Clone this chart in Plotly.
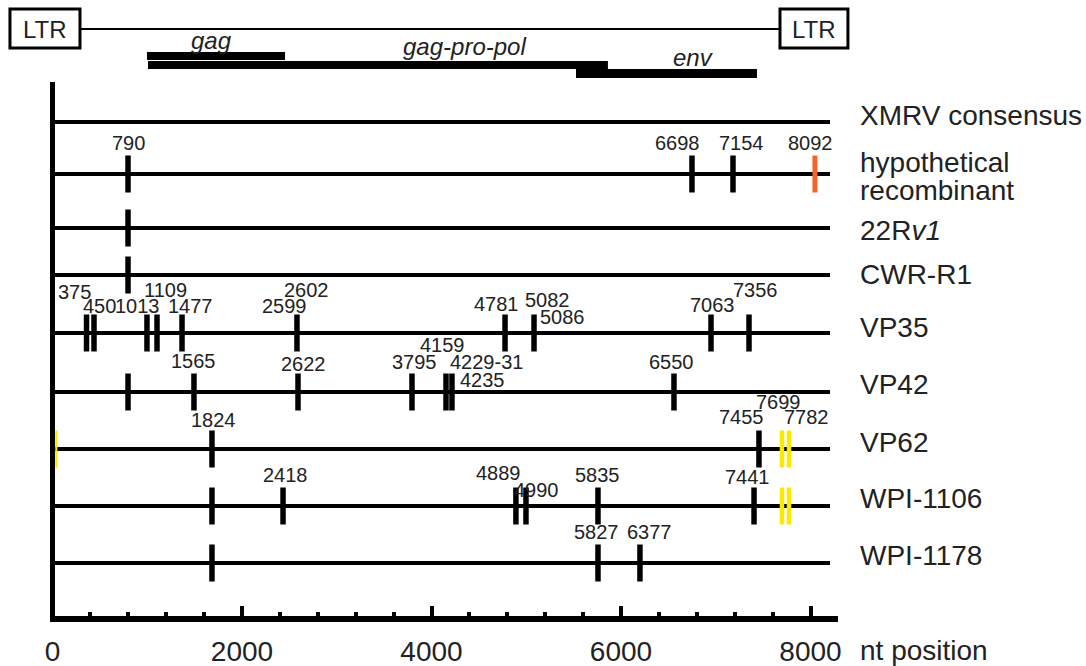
import plotly.graph_objects as go

# ---------------- data ----------------
genes = ["gag", "gag-pro-pol", "env"]
gene_start = [997, 1008, 5525]
gene_end = [2454, 5862, 7435]
ltr_start = [-449, 7678]
ltr_end = [290, 8395]

rows = ["XMRV consensus", "hypothetical recombinant", "22Rv1", "CWR-R1",
        "VP35", "VP42", "VP62", "WPI-1106", "WPI-1178"]
row_label_lines = [["XMRV consensus"], ["hypothetical", "recombinant"], ["22R<i>v1</i>"],
                   ["CWR-R1"], ["VP35"], ["VP42"], ["VP62"], ["WPI-1106"], ["WPI-1178"]]

# black mutation sites per row (nt)
black_sites = {
    "XMRV consensus": [],
    "hypothetical recombinant": [797, 6749, 7182],
    "22Rv1": [797],
    "CWR-R1": [797],
    "VP35": [359, 438, 997, 1103, 1367, 2580, 4776, 5082, 6950, 7351],
    "VP42": [797, 1493, 2591, 3794, 4153, 4216, 6559],
    "VP62": [1683, 7456],
    "WPI-1106": [1683, 2433, 4891, 4997, 5757, 7404],
    "WPI-1178": [1683, 5757, 6200],
}
orange_sites = {"hypothetical recombinant": [8047]}
yellow_sites = {"VP62": [7699, 7773], "WPI-1106": [7699, 7773]}
yellow_thin_sites = {"VP62": [40]}

# labels: (row, text, site)
site_labels = [
    ("hypothetical recombinant", "790", 797),
    ("hypothetical recombinant", "6698", 6749),
    ("hypothetical recombinant", "7154", 7182),
    ("hypothetical recombinant", "8092", 8047),
    ("VP35", "375", 359), ("VP35", "450", 438), ("VP35", "1013", 997),
    ("VP35", "1109", 1103), ("VP35", "1477", 1367), ("VP35", "2599", 2580),
    ("VP35", "2602", 2580), ("VP35", "4781", 4776), ("VP35", "5082", 5082),
    ("VP35", "5086", 5082), ("VP35", "7063", 6950), ("VP35", "7356", 7351),
    ("VP42", "1565", 1493), ("VP42", "2622", 2591), ("VP42", "3795", 3794),
    ("VP42", "4159", 4153), ("VP42", "4229-31", 4216), ("VP42", "4235", 4216),
    ("VP42", "6550", 6559),
    ("VP62", "1824", 1683), ("VP62", "7455", 7456), ("VP62", "7699", 7699),
    ("VP62", "7782", 7773),
    ("WPI-1106", "2418", 2433), ("WPI-1106", "4889", 4891), ("WPI-1106", "4990", 4997),
    ("WPI-1106", "5835", 5757), ("WPI-1106", "7441", 7404),
    ("WPI-1178", "5827", 5757), ("WPI-1178", "6377", 6200),
]

major_ticks = [0, 2000, 4000, 6000, 8000]
minor_ticks = [400, 800, 1200, 1600, 2400, 2800, 3200, 3600, 4400, 4800, 5200, 5600,
               6400, 6800, 7200, 7600]

# ---------------- layout constants ----------------
W, H = 1086, 666
PX0 = 52.5          # pixel of nt 0
PPN = 0.09475       # pixels per nt
ROW_Y = [122, 174, 228, 275, 333, 392, 449, 506, 563]
ROW_END = 8206
HALF = 18.5
AXIS_Y = 619
LABEL_OFF = {
    "790": (0, -31), "6698": (-14, -31), "7154": (9, -31), "8092": (-4, -31),
    "375": (-12, -41), "450": (5, -27), "1013": (-9, -27), "1109": (8, -43),
    "1477": (8, -27), "2599": (-12, -27), "2602": (10, -43), "4781": (-9, -29),
    "5082": (13, -33), "5086": (28, -16), "7063": (1, -28), "7356": (6, -43),
    "1565": (0, -31), "2622": (5, -28), "3795": (3, -30), "4159": (-4, -47),
    "4229-31": (35, -30), "4235": (31, -12), "6550": (-2, -30),
    "1824": (2, -29), "7455": (-17, -32), "7699": (-3, -47), "7782": (18, -32),
    "2418": (2, -31), "4889": (-17, -33), "4990": (11, -16), "5835": (0, -31),
    "7441": (-7, -29), "5827": (-1, -31), "6377": (10, -31),
}
ROW_LABEL_Y = [[115], [162, 190], [230], [274], [327], [384], [442], [498], [555]]
FONT = "Liberation Sans, Arial, sans-serif"
TXT = "#222222"

row_index = {r: i for i, r in enumerate(rows)}

fig = go.Figure()

# row lines
xs, ys = [], []
for i, r in enumerate(rows):
    xs += [0, ROW_END, None]
    ys += [ROW_Y[i], ROW_Y[i], None]
fig.add_trace(go.Scatter(x=xs, y=ys, mode="lines", line=dict(color="black", width=4),
                         hoverinfo="skip", showlegend=False))


def mark_trace(sites, color, width):
    mx, my = [], []
    for r, lst in sites.items():
        yc = ROW_Y[row_index[r]]
        for s in lst:
            mx += [s, s, None]
            my += [yc - HALF, yc + HALF, None]
    return go.Scatter(x=mx, y=my, mode="lines", line=dict(color=color, width=width),
                      hoverinfo="skip", showlegend=False)


fig.add_trace(mark_trace(black_sites, "black", 5.5))
fig.add_trace(mark_trace(orange_sites, "#F5652A", 5))
fig.add_trace(mark_trace(yellow_sites, "#FFE800", 4.5))
fig.add_trace(mark_trace(yellow_thin_sites, "#FFE800", 2))

shapes = []
# axes lines
shapes.append(dict(type="line", xref="x", yref="y", x0=-26, x1=8290, y0=AXIS_Y, y1=AXIS_Y,
                   line=dict(color="black", width=6)))
shapes.append(dict(type="line", xref="x", yref="y", x0=0, x1=0, y0=82, y1=AXIS_Y + 3,
                   line=dict(color="black", width=5)))
# genome line + LTR boxes
shapes.append(dict(type="line", xref="x", yref="y", x0=ltr_end[0], x1=ltr_start[1], y0=29, y1=29,
                   line=dict(color="black", width=2)))
for a, b in zip(ltr_start, ltr_end):
    shapes.append(dict(type="rect", xref="x", yref="y", x0=a, x1=b, y0=9, y1=48,
                       line=dict(color="black", width=3), fillcolor="white"))
# gene bars
gene_y = {"gag": (52, 60), "gag-pro-pol": (61, 69), "env": (69, 78)}
for g, a, b in zip(genes, gene_start, gene_end):
    y0, y1 = gene_y[g]
    shapes.append(dict(type="rect", xref="x", yref="y", x0=a, x1=b, y0=y0, y1=y1,
                       line=dict(width=0), fillcolor="black"))

ann = []
# LTR text
for a, b in zip(ltr_start, ltr_end):
    ann.append(dict(x=(a + b) / 2, y=29, xref="x", yref="y", text="LTR", showarrow=False,
                    font=dict(family=FONT, size=24, color=TXT), xanchor="center", yanchor="middle"))
gene_label_pos = {"gag": (1675, 40), "gag-pro-pol": (4343, 46), "env": (6760, 57)}
for g in genes:
    gx, gy = gene_label_pos[g]
    ann.append(dict(x=gx, y=gy, xref="x", yref="y", text="<i>%s</i>" % g, showarrow=False,
                    font=dict(family=FONT, size=24, color=TXT), xanchor="center", yanchor="middle"))
# site labels
for r, t, s in site_labels:
    dx, dy = LABEL_OFF[t]
    ann.append(dict(x=s, y=ROW_Y[row_index[r]] + dy, xref="x", yref="y", text=t, xshift=dx,
                    showarrow=False, font=dict(family=FONT, size=20, color=TXT),
                    xanchor="center", yanchor="middle"))
# row labels
for lines, ylist in zip(row_label_lines, ROW_LABEL_Y):
    for t, yy in zip(lines, ylist):
        ann.append(dict(x=858 / W, y=yy, xref="paper", yref="y", text=t, showarrow=False,
                        font=dict(family=FONT, size=28, color=TXT), xanchor="left", yanchor="middle"))
ann.append(dict(x=858 / W, y=650, xref="paper", yref="y", text="nt position", showarrow=False,
                font=dict(family=FONT, size=28, color=TXT), xanchor="left", yanchor="middle"))

fig.update_layout(
    width=W, height=H, margin=dict(l=0, r=0, t=0, b=0),
    paper_bgcolor="white", plot_bgcolor="white",
    shapes=shapes, annotations=ann, showlegend=False,
    xaxis=dict(domain=[0, 1], range=[-PX0 / PPN, (W - PX0) / PPN], anchor="free",
               position=(H - AXIS_Y) / H, side="bottom", showline=False, showgrid=False,
               zeroline=False, ticks="inside", tickvals=major_ticks,
               ticktext=[str(v) for v in major_ticks], ticklen=13, tickwidth=4,
               tickcolor="black", ticklabelstandoff=13,
               tickfont=dict(family=FONT, size=28, color=TXT),
               minor=dict(tickvals=minor_ticks, ticks="inside", ticklen=7, tickwidth=4,
                          tickcolor="black", showgrid=False)),
    yaxis=dict(domain=[0, 1], range=[H, 0], visible=False, showgrid=False, zeroline=False),
)

fig.write_html("out.html", config={"displayModeBar": False},
               post_script="document.body.style.margin='0';document.body.style.padding='0';"
                           "document.body.style.overflow='hidden';")
